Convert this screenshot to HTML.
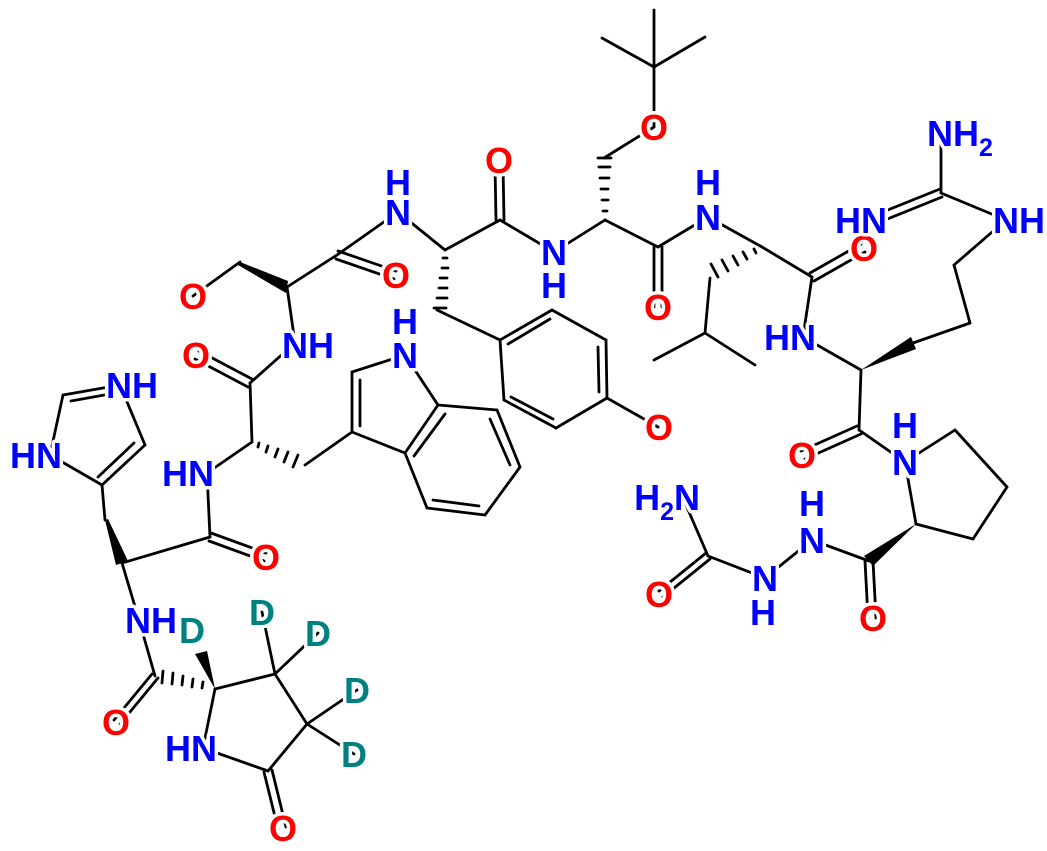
<!DOCTYPE html>
<html><head><meta charset="utf-8"><style>
html,body{margin:0;padding:0;background:#fff}
svg{display:block}
text{font-family:"Liberation Sans",Arial,sans-serif;font-weight:bold;font-size:36px;paint-order:stroke;stroke:#fff;stroke-width:7px;stroke-linejoin:round}
.N{fill:#0000ff}.O{fill:#ff0000}.D{fill:#008080}
line{stroke:#000;stroke-width:2.8;stroke-linecap:round}
</style></head><body>
<svg width="1047" height="851" viewBox="0 0 1047 851" xmlns="http://www.w3.org/2000/svg">
<g>
<line x1="193" y1="296" x2="240" y2="262"/>
<line x1="287" y1="287" x2="337" y2="255"/>
<line x1="337" y1="255" x2="398" y2="212"/>
<line x1="398" y1="212" x2="445" y2="250"/>
<line x1="445" y1="250" x2="500" y2="220"/>
<line x1="500" y1="220" x2="554" y2="252"/>
<line x1="554" y1="252" x2="605" y2="220"/>
<line x1="605" y1="220" x2="658" y2="247"/>
<line x1="658" y1="247" x2="708" y2="217"/>
<line x1="708" y1="217" x2="762" y2="247"/>
<line x1="762" y1="247" x2="812" y2="277"/>
<line x1="812" y1="277" x2="803" y2="337"/>
<line x1="803" y1="337" x2="861" y2="370"/>
<line x1="913" y1="343" x2="970" y2="323"/>
<line x1="970" y1="323" x2="954" y2="265"/>
<line x1="954" y1="265" x2="1006" y2="220"/>
<line x1="1006" y1="220" x2="941" y2="193"/>
<line x1="941" y1="193" x2="941" y2="135"/>
<line x1="861" y1="370" x2="859" y2="430"/>
<line x1="859" y1="430" x2="905" y2="462"/>
<line x1="905" y1="462" x2="955" y2="430"/>
<line x1="955" y1="430" x2="1007" y2="487"/>
<line x1="1007" y1="487" x2="973" y2="539"/>
<line x1="973" y1="539" x2="916" y2="524"/>
<line x1="916" y1="524" x2="905" y2="462"/>
<line x1="869" y1="561" x2="812" y2="540"/>
<line x1="812" y1="540" x2="765" y2="578"/>
<line x1="765" y1="578" x2="708" y2="556"/>
<line x1="708" y1="556" x2="686" y2="505"/>
<line x1="604" y1="158" x2="654" y2="127"/>
<line x1="654" y1="127" x2="654" y2="67"/>
<line x1="654" y1="67" x2="654" y2="10"/>
<line x1="654" y1="67" x2="602" y2="38"/>
<line x1="654" y1="67" x2="705" y2="37"/>
<line x1="710" y1="278" x2="705" y2="333"/>
<line x1="705" y1="333" x2="654" y2="360"/>
<line x1="705" y1="333" x2="755" y2="365"/>
<line x1="437" y1="310" x2="500" y2="340"/>
<line x1="500" y1="340" x2="552" y2="310"/>
<line x1="552" y1="310" x2="606" y2="340"/>
<line x1="606" y1="340" x2="607" y2="398"/>
<line x1="607" y1="398" x2="556" y2="428"/>
<line x1="556" y1="428" x2="504" y2="400"/>
<line x1="504" y1="400" x2="500" y2="340"/>
<line x1="607" y1="398" x2="658" y2="427"/>
<line x1="508" y1="344" x2="550" y2="319"/>
<line x1="598" y1="347" x2="599" y2="392"/>
<line x1="553" y1="419" x2="511" y2="397"/>
<line x1="287" y1="287" x2="295" y2="343"/>
<line x1="295" y1="343" x2="250" y2="383"/>
<line x1="250" y1="383" x2="252" y2="442"/>
<line x1="252" y1="442" x2="207" y2="473"/>
<line x1="305" y1="465" x2="352" y2="432"/>
<line x1="352" y1="432" x2="352" y2="372"/>
<line x1="360" y1="426" x2="360" y2="380"/>
<line x1="352" y1="372" x2="405" y2="355"/>
<line x1="405" y1="355" x2="438" y2="405"/>
<line x1="438" y1="405" x2="405" y2="453"/>
<line x1="445" y1="414" x2="414" y2="456"/>
<line x1="405" y1="453" x2="352" y2="432"/>
<line x1="438" y1="405" x2="497" y2="410"/>
<line x1="497" y1="410" x2="520" y2="467"/>
<line x1="490" y1="419" x2="510" y2="465"/>
<line x1="520" y1="467" x2="485" y2="515"/>
<line x1="485" y1="515" x2="427" y2="508"/>
<line x1="479" y1="506" x2="433" y2="500"/>
<line x1="427" y1="508" x2="405" y2="453"/>
<line x1="207" y1="473" x2="210" y2="537"/>
<line x1="210" y1="537" x2="122" y2="563"/>
<line x1="105" y1="520" x2="102" y2="485"/>
<line x1="102" y1="485" x2="145" y2="445"/>
<line x1="98" y1="477" x2="134" y2="443"/>
<line x1="145" y1="445" x2="120" y2="385"/>
<line x1="120" y1="385" x2="63" y2="395"/>
<line x1="110" y1="394" x2="71" y2="401"/>
<line x1="63" y1="395" x2="50" y2="455"/>
<line x1="50" y1="455" x2="102" y2="485"/>
<line x1="122" y1="563" x2="139" y2="620"/>
<line x1="139" y1="620" x2="155" y2="676"/>
<line x1="215" y1="689" x2="275" y2="674"/>
<line x1="275" y1="674" x2="262" y2="612"/>
<line x1="275" y1="674" x2="318" y2="633"/>
<line x1="275" y1="674" x2="307" y2="724"/>
<line x1="307" y1="724" x2="357" y2="690"/>
<line x1="307" y1="724" x2="354" y2="754"/>
<line x1="307" y1="724" x2="268" y2="771"/>
<line x1="268" y1="771" x2="203" y2="748"/>
<line x1="203" y1="748" x2="215" y2="689"/>
<line x1="338" y1="251" x2="396" y2="271"/><line x1="336" y1="259" x2="394" y2="279"/>
<line x1="496" y1="220" x2="495" y2="165"/><line x1="504" y1="220" x2="503" y2="165"/>
<line x1="654" y1="247" x2="654" y2="307"/><line x1="662" y1="247" x2="662" y2="307"/>
<line x1="814" y1="281" x2="865" y2="252"/><line x1="810" y1="273" x2="861" y2="244"/>
<line x1="861" y1="434" x2="805" y2="459"/><line x1="857" y1="426" x2="801" y2="451"/>
<line x1="865" y1="561" x2="868" y2="618"/><line x1="873" y1="561" x2="876" y2="618"/>
<line x1="710" y1="559" x2="663" y2="597"/><line x1="706" y1="553" x2="659" y2="591"/>
<line x1="248" y1="387" x2="195" y2="359"/><line x1="252" y1="379" x2="199" y2="351"/>
<line x1="209" y1="541" x2="264" y2="561"/><line x1="211" y1="533" x2="266" y2="553"/>
<line x1="158" y1="678" x2="120" y2="724"/><line x1="152" y1="674" x2="114" y2="720"/>
<line x1="272" y1="770" x2="286" y2="827"/><line x1="264" y1="772" x2="278" y2="829"/>
<line x1="942" y1="197" x2="875" y2="224"/><line x1="940" y1="189" x2="873" y2="216"/>
<polygon points="240,262 288,281 286,293 238,265"/>
<polygon points="105,520 116,565 128,561 108,519"/>
<polygon points="861,370 911,337 916,349"/>
<polygon points="916,524 864,556 873,566"/>
<polygon points="215,689 195,654 207,651"/>
<g style="stroke:#000;stroke-width:2.2">
<line x1="443" y1="258" x2="447" y2="258"/><line x1="442" y1="268" x2="448" y2="268"/><line x1="440" y1="278" x2="447" y2="278"/><line x1="439" y1="288" x2="447" y2="288"/><line x1="437" y1="298" x2="447" y2="298"/><line x1="434" y1="308" x2="446" y2="308"/>
<line x1="603" y1="211" x2="607" y2="211"/><line x1="602" y1="200" x2="608" y2="200"/><line x1="601" y1="189" x2="608" y2="189"/><line x1="600" y1="178" x2="609" y2="178"/><line x1="599" y1="167" x2="610" y2="167"/><line x1="598" y1="158" x2="611" y2="158"/>
<line x1="754" y1="249" x2="756" y2="253"/><line x1="743" y1="252" x2="747" y2="259"/><line x1="733" y1="256" x2="738" y2="265"/><line x1="722" y1="260" x2="728" y2="271"/><line x1="711" y1="264" x2="718" y2="277"/>
<line x1="259" y1="443" x2="258" y2="447"/><line x1="268" y1="446" x2="266" y2="452"/><line x1="278" y1="449" x2="275" y2="457"/><line x1="288" y1="452" x2="284" y2="462"/><line x1="298" y1="455" x2="293" y2="467"/>
<line x1="163" y1="671" x2="162" y2="683"/><line x1="173" y1="673" x2="172" y2="684"/><line x1="183" y1="676" x2="182" y2="685"/><line x1="193" y1="679" x2="192" y2="687"/><line x1="203" y1="682" x2="202" y2="688"/>
</g>
</g>
<g transform="translate(0,2)">
<text class="O" x="193" y="307" text-anchor="middle">O</text>
<text class="O" x="396" y="286" text-anchor="middle">O</text>
<text class="O" x="499" y="171" text-anchor="middle">O</text>
<text class="O" x="658" y="318" text-anchor="middle">O</text>
<text class="O" x="864" y="259" text-anchor="middle">O</text>
<text class="O" x="802" y="466" text-anchor="middle">O</text>
<text class="O" x="873" y="629" text-anchor="middle">O</text>
<text class="O" x="659" y="605" text-anchor="middle">O</text>
<text class="O" x="196" y="366" text-anchor="middle">O</text>
<text class="O" x="266" y="568" text-anchor="middle">O</text>
<text class="O" x="116" y="733" text-anchor="middle">O</text>
<text class="O" x="283" y="839" text-anchor="middle">O</text>
<text class="O" x="654" y="138" text-anchor="middle">O</text>
<text class="O" x="659" y="438" text-anchor="middle">O</text>
<text class="N" x="398" y="223" text-anchor="middle">N</text>
<text class="N" x="398" y="193" text-anchor="middle">H</text>
<text class="N" x="554" y="263" text-anchor="middle">N</text>
<text class="N" x="554" y="296" text-anchor="middle">H</text>
<text class="N" x="708" y="228" text-anchor="middle">N</text>
<text class="N" x="708" y="193" text-anchor="middle">H</text>
<text class="N" x="816" y="348" text-anchor="end">HN</text>
<text class="N" x="993" y="231" text-anchor="start">NH</text>
<text class="N" x="887" y="231" text-anchor="end">HN</text>
<text class="N" x="927" y="144" text-anchor="start">NH<tspan font-size="25" dy="10">2</tspan></text>
<text class="N" x="905" y="473" text-anchor="middle">N</text>
<text class="N" x="905" y="436" text-anchor="middle">H</text>
<text class="N" x="812" y="551" text-anchor="middle">N</text>
<text class="N" x="812" y="514" text-anchor="middle">H</text>
<text class="N" x="765" y="589" text-anchor="middle">N</text>
<text class="N" x="763" y="623" text-anchor="middle">H</text>
<text class="N" x="700" y="508" text-anchor="end">H<tspan font-size="25" dy="10">2</tspan><tspan dy="-10">N</tspan></text>
<text class="N" x="282" y="356" text-anchor="start">NH</text>
<text class="N" x="405" y="366" text-anchor="middle">N</text>
<text class="N" x="405" y="332" text-anchor="middle">H</text>
<text class="N" x="214" y="484" text-anchor="end">HN</text>
<text class="N" x="106" y="396" text-anchor="start">NH</text>
<text class="N" x="62" y="466" text-anchor="end">HN</text>
<text class="N" x="125" y="631" text-anchor="start">NH</text>
<text class="N" x="217" y="759" text-anchor="end">HN</text>
<text class="D" x="192" y="641" text-anchor="middle">D</text>
<text class="D" x="262" y="623" text-anchor="middle">D</text>
<text class="D" x="318" y="644" text-anchor="middle">D</text>
<text class="D" x="357" y="701" text-anchor="middle">D</text>
<text class="D" x="354" y="765" text-anchor="middle">D</text>
</g>
</svg>
</body></html>
